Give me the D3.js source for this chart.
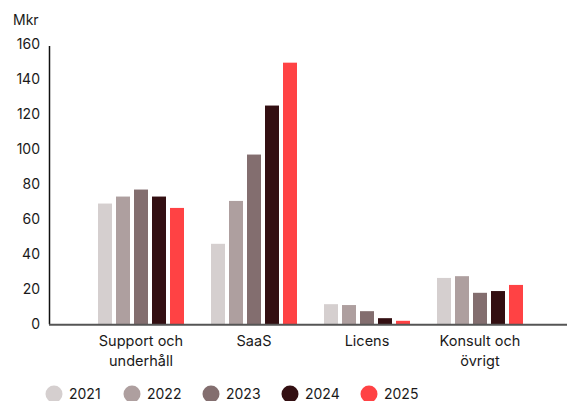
<!DOCTYPE html>
<html>
<head>
<meta charset="utf-8">
<script src="https://cdn.jsdelivr.net/npm/d3@7"></script>
<style>
  html, body { margin: 0; padding: 0; background: #fff; }
  svg text { font-family: Inter, "Noto Sans", sans-serif; fill: #1a1a1a; }
</style>
</head>
<body>
<svg id="chart" width="567" height="401"></svg>
<script>
// Revenue per segment (Mkr), by year
const categories = [["Support och", "underhåll"], ["SaaS"], ["Licens"], ["Konsult och", "övrigt"]];
const years = ["2021", "2022", "2023", "2024", "2025"];
const values2021 = [69, 46, 11.5, 26.5];
const values2022 = [73, 70.5, 11, 27.5];
const values2023 = [77, 97, 7.5, 18];
const values2024 = [73, 125, 3.5, 19];
const values2025 = [66.5, 149.5, 2, 22.5];
const yTicks = [0, 20, 40, 60, 80, 100, 120, 140, 160];
const colors = ["#d5cfcf", "#ae9f9f", "#836e6f", "#330f12", "#ff4244"];

const series = [values2021, values2022, values2023, values2024, values2025];

const svg = d3.select("#chart");
const x0 = 84.5, x1 = 536.5;
const yBase = 324.3, yTop = 44.3;

const x = d3.scaleBand().domain(d3.range(categories.length)).range([x0, x1]).padding(0);
const xi = d3.scaleBand().domain(d3.range(years.length)).range([0, 86]).paddingInner(4 / 18);
const y = d3.scaleLinear().domain([0, 160]).range([yBase, yTop]);

// y tick labels
svg.append("g").selectAll("text").data(yTicks).join("text")
  .attr("x", 40).attr("y", d => y(d)).attr("dy", "0.35em")
  .attr("text-anchor", "end").attr("font-size", 14).text(d => d);

svg.append("text").attr("x", 13).attr("y", 20).attr("dy", "0.35em")
  .attr("font-size", 14).text("Mkr");

// bars
const groups = svg.append("g").selectAll("g").data(categories).join("g")
  .attr("transform", (d, i) => `translate(${x(i) + x.bandwidth() / 2 - 43},0)`);

groups.selectAll("rect").data((d, ci) => series.map((s, si) => ({ si, v: s[ci] })))
  .join("rect")
  .attr("x", d => xi(d.si)).attr("width", xi.bandwidth())
  .attr("y", d => y(d.v)).attr("height", d => y(0) - y(d.v))
  .attr("fill", d => colors[d.si]);

// axes lines
svg.append("line").attr("x1", 49.5).attr("x2", 49.5).attr("y1", 46).attr("y2", yBase)
  .attr("stroke", "#111").attr("stroke-width", 1.5);
svg.append("line").attr("x1", 49).attr("x2", 567).attr("y1", yBase + 0.5).attr("y2", yBase + 0.5)
  .attr("stroke", "#555").attr("stroke-width", 2);

// category labels
groups.each(function (d) {
  const t = d3.select(this).append("text")
    .attr("x", 43).attr("y", 341).attr("text-anchor", "middle").attr("font-size", 14.5);
  d.forEach((line, k) => {
    t.append("tspan").attr("x", 43).attr("dy", k === 0 ? "0.35em" : "20px").text(line);
  });
});

// legend
const legendX = [54, 132, 211, 290, 369];
const lg = svg.append("g").selectAll("g").data(years).join("g")
  .attr("transform", (d, i) => `translate(${legendX[i]},394)`);
lg.append("circle").attr("r", 8.5).attr("fill", (d, i) => colors[i]);
lg.append("text").attr("x", 15).attr("dy", "0.35em").attr("font-size", 14).text(d => d);
</script>
</body>
</html>
